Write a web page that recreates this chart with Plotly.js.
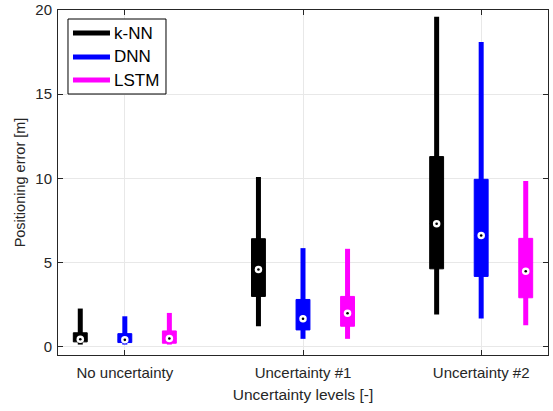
<!DOCTYPE html>
<html>
<head>
<meta charset="utf-8">
<script src="https://cdn.plot.ly/plotly-3.0.1.min.js"></script>
<style>html,body{margin:0;padding:0;background:#fff;}#chart{width:553px;height:411px;}</style>
</head>
<body>
<div id="chart"></div>
<script>
// Categories and methods
const groupLabels = ["No uncertainty", "Uncertainty #1", "Uncertainty #2"];
const methods = ["k-NN", "DNN", "LSTM"];
const colors = ["#000000", "#0000ff", "#ff00ff"];

// Box statistics per method, one value per uncertainty level
const knnLower  = [0.12, 1.21, 1.90];
const knnQ1     = [0.28, 2.98, 4.62];
const knnMedian = [0.44, 4.58, 7.30];
const knnQ3     = [0.82, 6.41, 11.29];
const knnUpper  = [2.26, 10.08, 19.60];

const dnnLower  = [0.12, 0.46, 1.67];
const dnnQ1     = [0.24, 0.99, 4.17];
const dnnMedian = [0.40, 1.65, 6.60];
const dnnQ3     = [0.77, 2.80, 9.94];
const dnnUpper  = [1.80, 5.85, 18.10];

const lstmLower  = [0.12, 0.46, 1.27];
const lstmQ1     = [0.20, 1.21, 2.90];
const lstmMedian = [0.48, 1.98, 4.48];
const lstmQ3     = [0.93, 2.98, 6.43];
const lstmUpper  = [2.00, 5.81, 9.84];

const stats = [
  {lower: knnLower, q1: knnQ1, median: knnMedian, q3: knnQ3, upper: knnUpper},
  {lower: dnnLower, q1: dnnQ1, median: dnnMedian, q3: dnnQ3, upper: dnnUpper},
  {lower: lstmLower, q1: lstmQ1, median: lstmMedian, q3: lstmQ3, upper: lstmUpper}
];

const groupPos = [1, 2, 3];
const offsets = [-0.25, 0, 0.25];

const traces = [];
// whiskers drawn first
stats.forEach((s, i) => {
  const xs = [], ys = [];
  groupPos.forEach((g, k) => {
    xs.push(g + offsets[i], g + offsets[i], null);
    ys.push(s.lower[k], s.upper[k], null);
  });
  traces.push({type: 'scatter', mode: 'lines', x: xs, y: ys, name: methods[i],
    line: {color: colors[i], width: 5}, showlegend: false, hoverinfo: 'skip'});
});
// boxes
stats.forEach((s, i) => {
  const xs = groupPos.map(g => g + offsets[i]);
  traces.push({
    type: 'box', x: xs, q1: s.q1, median: s.median, q3: s.q3,
    lowerfence: s.q1, upperfence: s.q3, name: methods[i],
    width: 0.078, whiskerwidth: 0,
    fillcolor: colors[i], line: {color: colors[i], width: 1},
    boxpoints: false, showlegend: false, hoverinfo: 'skip'
  });
});
// median markers
stats.forEach((s, i) => {
  const xs = groupPos.map(g => g + offsets[i]);
  traces.push({type: 'scatter', mode: 'markers', x: xs, y: s.median,
    marker: {color: '#ffffff', size: 7.5, line: {width: 0}}, showlegend: false, hoverinfo: 'skip'});
  traces.push({type: 'scatter', mode: 'markers', x: xs, y: s.median,
    marker: {color: '#000000', size: 2.6, line: {width: 0}}, showlegend: false, hoverinfo: 'skip'});
});

const FONT = 'Liberation Sans, Arial, Helvetica, sans-serif';

// Legend drawn in paper coordinates (MATLAB-style box legend)
const legendRows = [0.9333, 0.8638, 0.7971];
const shapes = [{type: 'rect', xref: 'paper', yref: 'paper', x0: 0.0204, x1: 0.2204, y0: 0.7565, y1: 0.9739,
  fillcolor: '#ffffff', line: {color: '#000000', width: 1}, layer: 'above'}];
const annotations = [];
methods.forEach((m, i) => {
  shapes.push({type: 'line', xref: 'paper', yref: 'paper', x0: 0.0306, x1: 0.1061,
    y0: legendRows[i], y1: legendRows[i], line: {color: colors[i], width: 5}, layer: 'above'});
  annotations.push({xref: 'paper', yref: 'paper', x: 0.1102, y: legendRows[i], text: m,
    xanchor: 'left', yanchor: 'middle', showarrow: false,
    font: {family: FONT, size: 17, color: '#000000'}});
});

const axisCommon = {
  showline: true, mirror: 'ticks', linecolor: '#262626', linewidth: 1,
  ticks: 'inside', ticklen: 5, tickcolor: '#262626', tickwidth: 1,
  showgrid: true, gridcolor: '#e8e8e8', gridwidth: 1, zeroline: false,
  tickfont: {family: FONT, size: 15, color: '#262626'}
};

const layout = {
  width: 553, height: 411,
  margin: {l: 58, r: 5, t: 10, b: 56},
  paper_bgcolor: '#ffffff', plot_bgcolor: '#ffffff',
  showlegend: false,
  shapes: shapes, annotations: annotations,
  xaxis: Object.assign({}, axisCommon, {
    range: [0.625, 3.375], tickvals: groupPos, ticktext: groupLabels,
    ticklabelstandoff: 4,
    title: {text: 'Uncertainty levels [-]', standoff: 9,
      font: {family: FONT, size: 15.5, color: '#262626'}}
  }),
  yaxis: Object.assign({}, axisCommon, {
    range: [-0.5, 20], tickvals: [0, 5, 10, 15, 20],
    ticklabelstandoff: 2,
    title: {text: 'Positioning error [m]', standoff: 6,
      font: {family: FONT, size: 14.5, color: '#262626'}}
  })
};

Plotly.newPlot('chart', traces, layout, {staticPlot: true, displayModeBar: false});
</script>
</body>
</html>
